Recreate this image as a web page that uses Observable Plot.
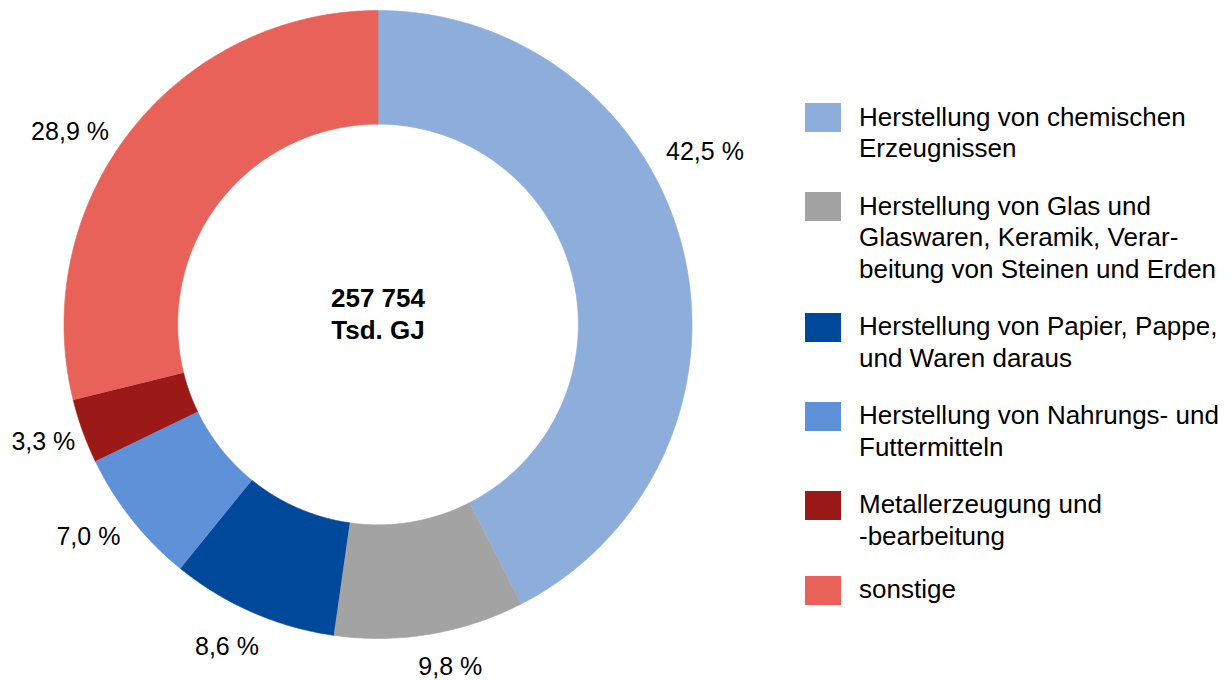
<!DOCTYPE html>
<html>
<head>
<meta charset="utf-8">
<script src="https://cdn.jsdelivr.net/npm/d3@7"></script>
<script src="https://cdn.jsdelivr.net/npm/@observablehq/plot@0.6"></script>
<style>
  html, body { margin: 0; padding: 0; background: #fff; }
  body { font-family: "Liberation Sans", Arial, sans-serif; }
  #wrap { position: relative; width: 1232px; height: 680px; }
  #chart { position: absolute; left: 0; top: 0; }
  #legend { position: absolute; left: 805px; top: 101.75px; }
  .item { display: flex; align-items: flex-start; margin-bottom: 26px; }
  .item:nth-child(5) { margin-bottom: 22px; }
  .sw { width: 36px; height: 29px; margin-top: 1.25px; margin-right: 18px; flex: none; }
  .lab { font-size: 26px; line-height: 31.5px; white-space: pre-line; color: #000; }
</style>
</head>
<body>
<div id="wrap">
  <div id="chart"></div>
  <div id="legend"></div>
</div>
<script>
// ---- data ----
const categories = [
  "Herstellung von chemischen\nErzeugnissen",
  "Herstellung von Glas und\nGlaswaren, Keramik, Verar-\nbeitung von Steinen und Erden",
  "Herstellung von Papier, Pappe,\nund Waren daraus",
  "Herstellung von Nahrungs- und\nFuttermitteln",
  "Metallerzeugung und\n-bearbeitung",
  "sonstige"
];
const shares = [42.5, 9.8, 8.6, 7.0, 3.3, 28.9];
const colors = ["#8DADDB", "#A3A3A3", "#00489A", "#5F91D8", "#9B1916", "#E8625A"];
const totalValue = "257 754";
const totalUnit = "Tsd. GJ";

// ---- layout (styling only) ----
const W = 790, H = 680, cx = 377.5, cy = 324, R = 314;
const innerRatio = 0.638;
const labelRadius = 1.14;
const labelNudge = [[-21, -88], [13, -11], [-8, -6], [-9, -10], [2, -4], [-26, 28]];

// ---- build slices ----
const sum = d3.sum(shares);
const slices = [];
const labels = [];
let acc = 0;
shares.forEach((v, i) => {
  const a0 = acc / sum * 2 * Math.PI;
  acc += v;
  const a1 = acc / sum * 2 * Math.PI;
  const n = Math.max(4, Math.ceil((a1 - a0) / (2 * Math.PI) * 720));
  for (let k = 0; k <= n; k++) {
    const a = a0 + (a1 - a0) * k / n;
    slices.push({cat: categories[i], x: Math.sin(a), y: Math.cos(a)});
  }
  for (let k = n; k >= 0; k--) {
    const a = a0 + (a1 - a0) * k / n;
    slices.push({cat: categories[i], x: innerRatio * Math.sin(a), y: innerRatio * Math.cos(a)});
  }
  const am = (a0 + a1) / 2;
  labels.push({
    text: v.toFixed(1).replace(".", ",") + " %",
    x: labelRadius * Math.sin(am) + labelNudge[i][0] / R,
    y: labelRadius * Math.cos(am) - labelNudge[i][1] / R
  });
});

const chart = Plot.plot({
  width: W,
  height: H,
  margin: 0,
  style: {fontFamily: '"Liberation Sans", Arial, sans-serif', background: "#fff"},
  x: {domain: [-cx / R, (W - cx) / R], range: [0, W], axis: null},
  y: {domain: [-(H - cy) / R, cy / R], range: [H, 0], axis: null},
  color: {domain: categories, range: colors},
  marks: [
    Plot.line(slices, {x: "x", y: "y", z: "cat", fill: "cat", stroke: "cat", strokeWidth: 0.6, curve: "linear"}),
    Plot.text(labels, {x: "x", y: "y", text: "text", fontSize: 25, fill: "#000", textAnchor: "middle"}),
    Plot.text([totalValue + "\n" + totalUnit], {x: () => 0, y: () => 0, text: d => d, fontSize: 26, fontWeight: "bold", fill: "#000", lineHeight: 1.2, textAnchor: "middle", dy: -11.5})
  ]
});
document.getElementById("chart").appendChild(chart);

// ---- legend ----
const leg = document.getElementById("legend");
categories.forEach((c, i) => {
  const it = document.createElement("div");
  it.className = "item";
  const sw = document.createElement("div");
  sw.className = "sw";
  sw.style.background = colors[i];
  const lab = document.createElement("div");
  lab.className = "lab";
  lab.textContent = c;
  it.appendChild(sw);
  it.appendChild(lab);
  leg.appendChild(it);
});
</script>
</body>
</html>
